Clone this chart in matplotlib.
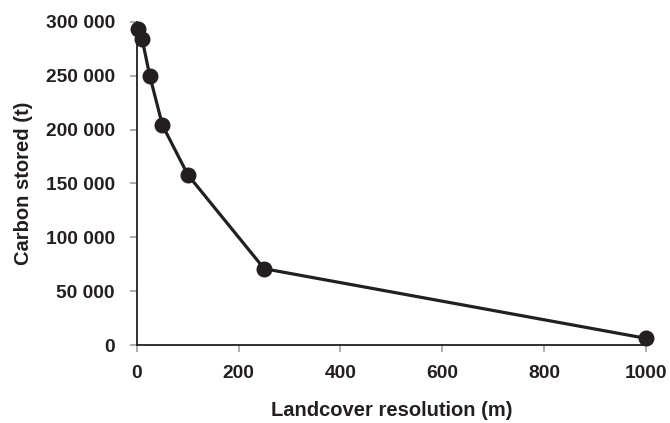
import matplotlib
matplotlib.use("Agg")
import matplotlib.pyplot as plt
from matplotlib.ticker import FuncFormatter

resolution = [1, 10, 25, 50, 100, 250, 1000]
carbon = [293000, 284000, 250000, 204000, 158000, 71000, 6500]
xticks = [0, 200, 400, 600, 800, 1000]
yticks = [0, 50000, 100000, 150000, 200000, 250000, 300000]

plt.rcParams['font.family'] = ['Liberation Sans', 'DejaVu Sans']
plt.rcParams['font.weight'] = 'bold'

fig = plt.figure(figsize=(6.70, 4.23), dpi=100)
ax = fig.add_axes([0.2045, 0.1837, 0.7592, 0.765])
col = '#231f20'
ax.plot(resolution, carbon, '-o', color=col, lw=2.3, markersize=10.5, clip_on=False, zorder=3)
ax.set_xlim(0, 1000)
ax.set_ylim(0, 300000)
ax.set_xticks(xticks)
ax.set_yticks(yticks)
ax.yaxis.set_major_formatter(FuncFormatter(lambda v, p: f"{int(v):,}".replace(",", " ")))
for s in ['top', 'right']:
    ax.spines[s].set_visible(False)
for s in ['left', 'bottom']:
    ax.spines[s].set_color(col)
    ax.spines[s].set_linewidth(1.3)
ax.tick_params(axis='both', direction='out', length=5, width=1.2, color='#a0a0a0',
               labelsize=13.8, labelcolor=col)
ax.tick_params(axis='y', pad=11)
ax.tick_params(axis='x', pad=9)
for lab in ax.get_xticklabels() + ax.get_yticklabels():
    lab.set_fontweight('bold')
ax.set_xlabel('Landcover resolution (m)', fontsize=14.5, fontweight='bold', color=col, labelpad=14)
ax.set_ylabel('Carbon stored (t)', fontsize=14.5, fontweight='bold', color=col, labelpad=9)
fig.savefig('out.png', dpi=100)
